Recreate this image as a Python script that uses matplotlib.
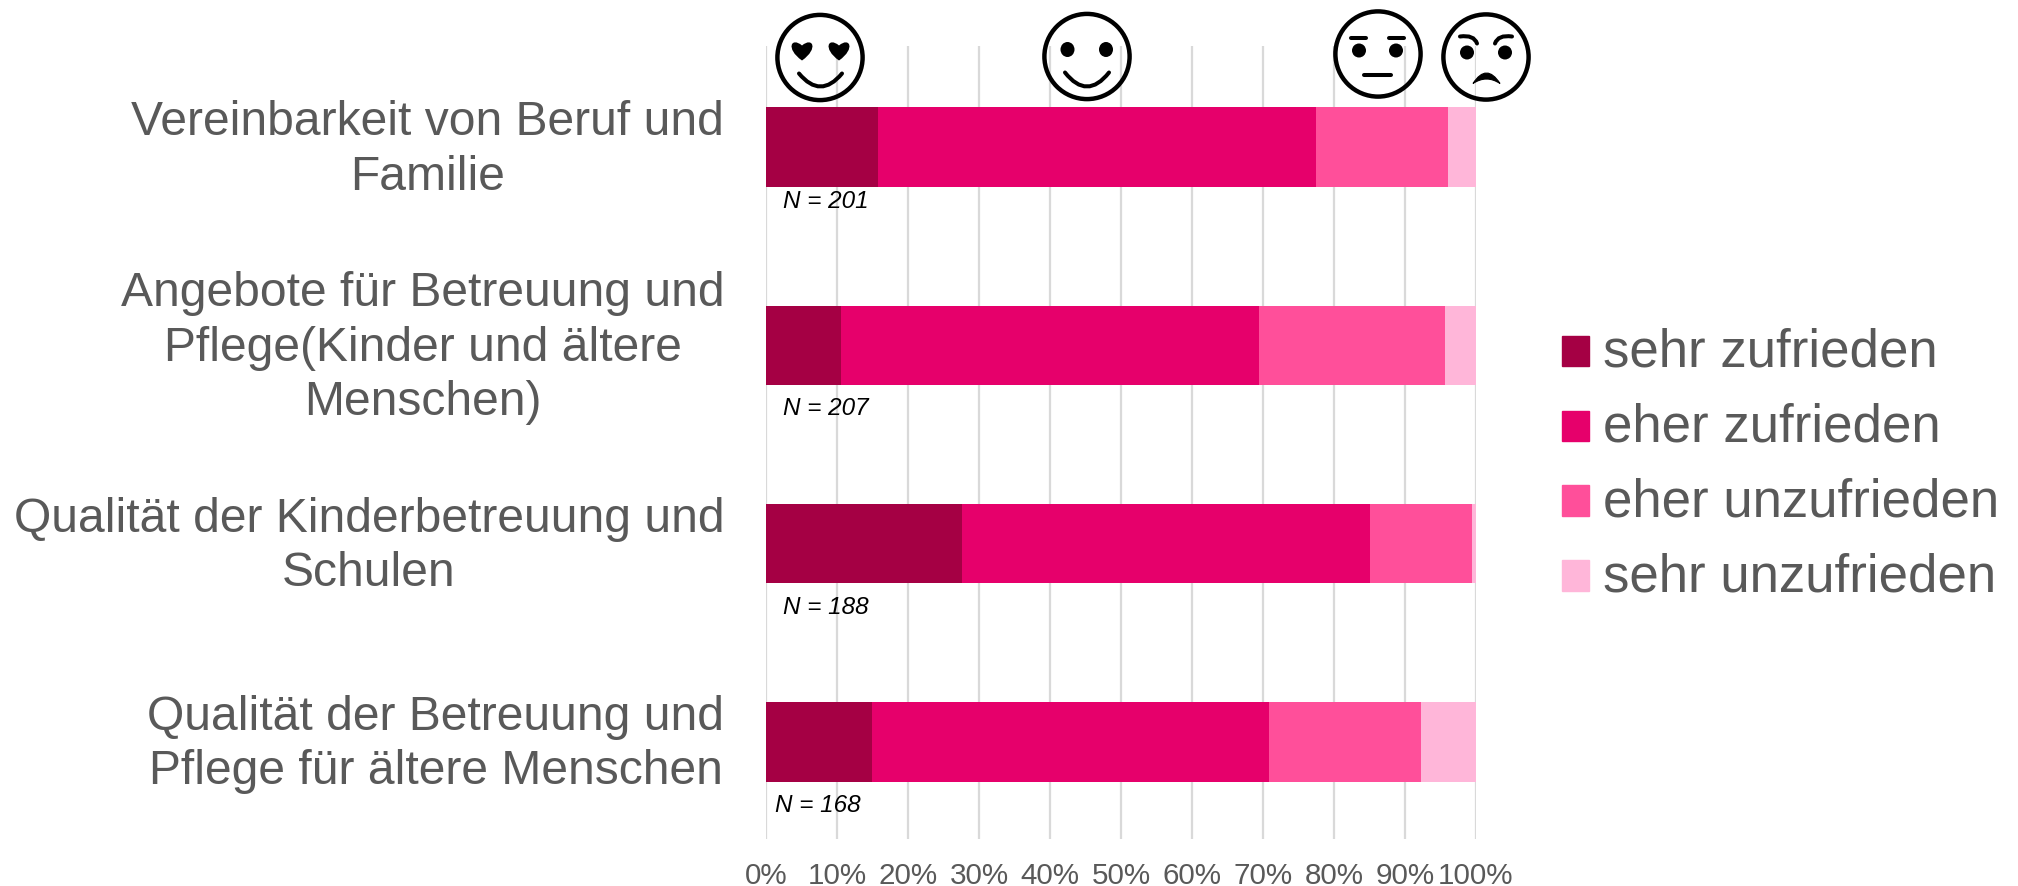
import matplotlib
matplotlib.use("Agg")
import matplotlib.pyplot as plt
from matplotlib.patches import Ellipse, Patch, PathPatch
from matplotlib.path import Path
from matplotlib.legend_handler import HandlerPatch
from matplotlib.transforms import ScaledTranslation

W, H = 2018, 887
categories = ["Vereinbarkeit von Beruf und\nFamilie",
              "Angebote für Betreuung und\nPflege(Kinder und ältere\nMenschen)",
              "Qualität der Kinderbetreuung und\nSchulen",
              "Qualität der Betreuung und\nPflege für ältere Menschen"]
sehr_zufrieden = [15.8, 10.5, 27.6, 14.9]
eher_zufrieden = [61.7, 59.0, 57.4, 55.9]
eher_unzufrieden = [18.5, 26.1, 14.5, 21.4]
sehr_unzufrieden = [4.0, 4.4, 0.5, 7.8]
n_labels = ["N = 201", "N = 207", "N = 188", "N = 168"]
series_names = ["sehr zufrieden", "eher zufrieden", "eher unzufrieden", "sehr unzufrieden"]
colors = ["#A50044", "#E6006B", "#FF4F9A", "#FFB6D9"]
x_ticks = list(range(0, 101, 10))

plt.rcParams['font.family'] = ['Liberation Sans', 'DejaVu Sans']
TXT = "#595959"
fig = plt.figure(figsize=(W/100, H/100), dpi=100)
ax = fig.add_axes([766/W, 1-840/H, (1476-766)/W, (840-47)/H])
series = [sehr_zufrieden, eher_zufrieden, eher_unzufrieden, sehr_unzufrieden]
ypos = list(range(len(categories)))
left = [0.0]*4
for vals, c, name in zip(series, colors, series_names):
    ax.barh(ypos, vals, left=left, height=0.4, color=c, label=name, zorder=3, linewidth=0)
    left = [a+b for a, b in zip(left, vals)]
ax.set_xlim(0, 100)
ax.set_ylim(3.49, -0.51)
ax.set_xticks(x_ticks)
ax.set_xticklabels([f"{t}%" for t in x_ticks], fontsize=21.3, color=TXT)
ax.set_yticks(ypos)
ax.set_yticklabels(categories, fontsize=34.6, color=TXT, multialignment='center', linespacing=1.27)
ax.tick_params(axis='y', length=0, pad=30)
ax.tick_params(axis='x', length=0, pad=16)
shift_up = ScaledTranslation(0, 8/100, fig.dpi_scale_trans)
for lab in ax.get_yticklabels():
    lab.set_transform(lab.get_transform() + shift_up)
ax.grid(axis='x', color="#D9D9D9", linewidth=1.6, zorder=0)
ax.set_axisbelow(True)
for s in ax.spines.values():
    s.set_visible(False)
n_x = [2.4, 2.4, 2.4, 1.3]
n_off = [0.27, 0.315, 0.315, 0.315]
for i, lab in enumerate(n_labels):
    ax.text(n_x[i], i+n_off[i], lab, fontsize=17.5, style='italic', color='black', va='center', ha='left', zorder=4)

class LoweredSwatch(HandlerPatch):
    def create_artists(self, *args, **kwargs):
        arts = super().create_artists(*args, **kwargs)
        for a in arts:
            a.set_y(a.get_y() - 2.9)
        return arts

leg_h = [Patch(color=c, label=n) for c, n in zip(colors, series_names)]
fig.legend(handles=leg_h, loc='center left', bbox_to_anchor=(1562/W, 1-465/H), frameon=False,
           fontsize=38.1, labelcolor=TXT, handlelength=0.51, handleheight=0.51,
           handletextpad=0.26, labelspacing=0.47, borderpad=0, borderaxespad=0,
           handler_map={Patch: LoweredSwatch()})

# smiley decoration, in pixel space
ov = fig.add_axes([0, 0, 1, 1], zorder=5)
ov.set_xlim(0, W); ov.set_ylim(H, 0); ov.axis('off'); ov.patch.set_alpha(0)
LW = 3.2
DY = 1.5
def blob(x, y, w=14, h=14):
    ov.add_patch(Ellipse((x, y+DY), w, h, fc='k', ec='none'))
def stroke(pts, lw=2.9):
    pts = [(a, b+DY) for a, b in pts]
    codes = [Path.MOVETO] + [Path.CURVE3 if len(pts) == 3 else Path.LINETO]*(len(pts)-1)
    ov.add_patch(PathPatch(Path(pts, codes), fc='none', ec='k', lw=lw, capstyle='round'))
def heart(x, y, s):
    y = y + DY
    v2 = [(x, y+s), (x-s*1.7, y-s*0.2), (x-s*1.05, y-s*1.4), (x, y-s*0.5),
          (x+s*1.05, y-s*1.4), (x+s*1.7, y-s*0.2), (x, y+s)]
    c2 = [Path.MOVETO, Path.CURVE4, Path.CURVE4, Path.CURVE4, Path.CURVE4, Path.CURVE4, Path.CURVE4]
    ov.add_patch(PathPatch(Path(v2, c2), fc='k', ec='none'))
def face(x, y, r=42.6):
    ov.add_patch(Ellipse((x, y+DY), 2*r, 2*r, fc='none', ec='k', lw=LW))
def crescent(x0, x1, yb, ytop, ctrl_in):
    xm = (x0+x1)/2
    v = [(x0, yb+DY), (xm, ytop+DY), (x1, yb+DY), (xm, ctrl_in+DY), (x0, yb+DY)]
    c = [Path.MOVETO, Path.CURVE3, Path.CURVE3, Path.CURVE3, Path.CURVE3]
    ov.add_patch(PathPatch(Path(v, c), fc='k', ec='k', lw=0.8))

face(820, 57)
heart(802, 50, 10); heart(839, 50, 10)
stroke([(799, 73), (820.5, 99), (842, 73)])
face(1087, 56)
blob(1067.5, 49, 14, 15); blob(1106, 49, 14, 15)
stroke([(1065, 72), (1087, 100), (1109, 72)])
face(1378, 53.5)
blob(1359, 50); blob(1396, 50)
stroke([(1351, 37), (1366, 37)]); stroke([(1389, 37), (1404, 37)])
stroke([(1364, 74), (1391, 74)])
face(1486, 56.5)
blob(1467, 52); blob(1505, 52)
stroke([(1460, 36), (1474, 34), (1477, 43)]); stroke([(1512, 36), (1498, 34), (1495, 43)])
crescent(1473, 1500, 83, 62, 74)

fig.savefig("out.png", dpi=100, facecolor='white')
